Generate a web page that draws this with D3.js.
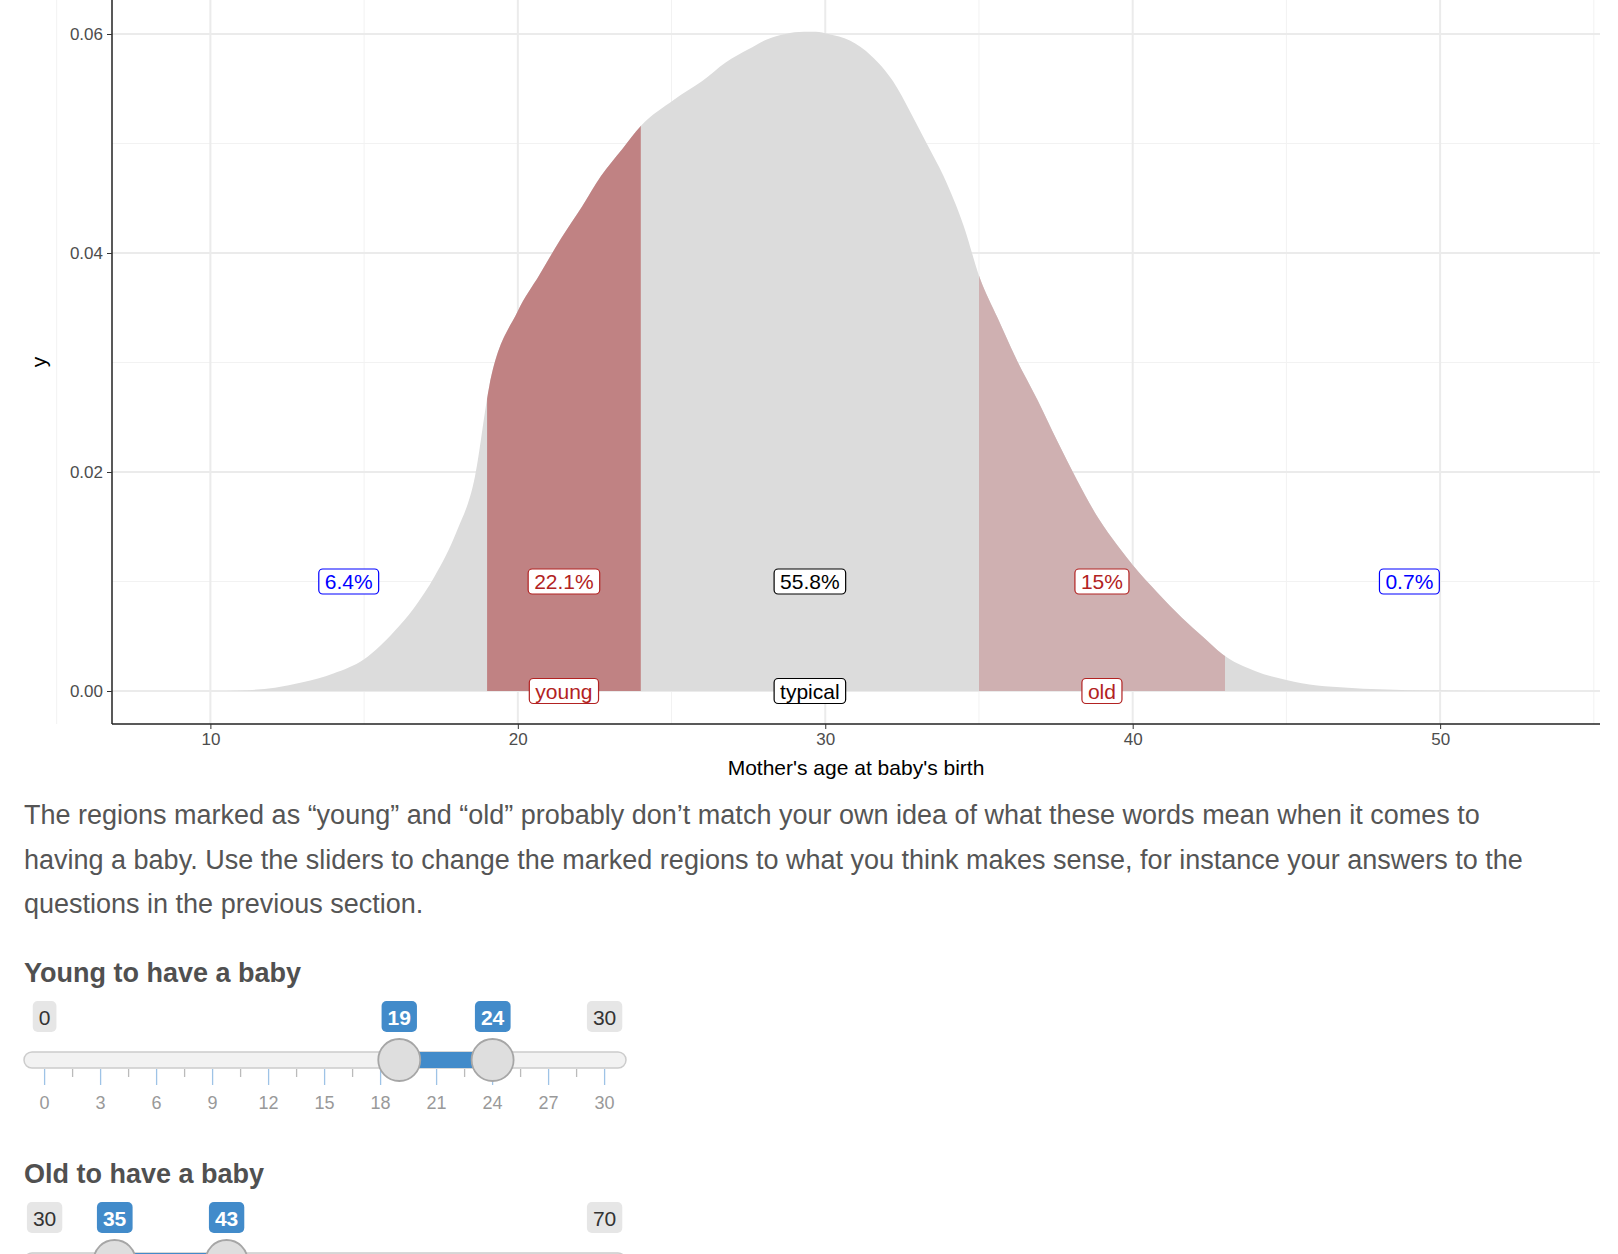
<!DOCTYPE html>
<html><head><meta charset="utf-8">
<script src="https://cdn.jsdelivr.net/npm/d3@7"></script>
<style>body{margin:0;background:#fff}svg{display:block}</style>
</head><body><svg id="c" width="1618" height="1254"></svg>
<script>
const densAge=[8.9,10,11,12.1,13,14,15,16,16.6,17.3,18,18.6,19.07,20,20.7,21.4,22.1,22.7,23.4,24,25.08,26,26.76,27.5,28.1,28.7,29.3,29.7,30.1,30.8,31.5,32.2,32.8,33.3,33.85,34.5,35.03,35.6,36.2,36.9,37.55,38.2,38.9,39.5,40,40.8,41.6,42.3,42.9,44,45,46,47,48,49,50.4,53.1];
const densY=[0,0,0.00005,0.0003,0.0008,0.0016,0.0029,0.0055,0.0075,0.0105,0.0145,0.0195,0.0278,0.0347,0.038,0.0413,0.0443,0.047,0.0495,0.0516,0.054,0.0557,0.0574,0.0586,0.0595,0.0600,0.0602,0.0602,0.0600,0.0594,0.0580,0.0557,0.0527,0.0500,0.0470,0.0425,0.0377,0.0341,0.0304,0.0266,0.0228,0.0192,0.0157,0.0133,0.0115,0.009,0.0067,0.0049,0.0034,0.0018,0.001,0.0005,0.0003,0.00015,0.00006,0.00002,0];
const regions=[{name:"young",from:19,to:24,color:"#c08283"},{name:"old",from:35,to:43,color:"#cfb0b1"}];
const pctLabels=["6.4%","22.1%","55.8%","15%","0.7%"];
const pctX=[14.5,21.5,29.5,39,49];
const pctColors=["#0000ff","#b22222","#000000","#b22222","#0000ff"];
const nameLabels=["young","typical","old"];
const nameX=[21.5,29.5,39];
const nameColors=["#b22222","#000000","#b22222"];
const xTicks=[10,20,30,40,50];
const yTicks=[0,0.02,0.04,0.06];
const paragraph=["The regions marked as \u201cyoung\u201d and \u201cold\u201d probably don\u2019t match your own idea of what these words mean when it comes to","having a baby. Use the sliders to change the marked regions to what you think makes sense, for instance your answers to the","questions in the previous section."];
const sliders=[{title:"Young to have a baby",min:0,max:30,lo:19,hi:24,ticks:[0,3,6,9,12,15,18,21,24,27,30]},{title:"Old to have a baby",min:30,max:70,lo:35,hi:43,ticks:[]}];

const svg=d3.select("#c");
const F="'Liberation Sans',Arial,sans-serif";
const L=112,R=1600,T=0,B=724;
const x=d3.scaleLinear().domain([6.8,55.2]).range([L,R]);
const y=d3.scaleLinear().domain([0,0.06]).range([691,34]);
const g=svg.append("g");
// grid
[5,15,25,35,45,55].forEach(v=>g.append("line").attr("x1",x(v)).attr("x2",x(v)).attr("y1",T).attr("y2",B).attr("stroke","#f2f2f2").attr("stroke-width",1));
[0.01,0.03,0.05].forEach(v=>g.append("line").attr("x1",L).attr("x2",R).attr("y1",y(v)).attr("y2",y(v)).attr("stroke","#f2f2f2").attr("stroke-width",1));
xTicks.forEach(v=>g.append("line").attr("x1",x(v)).attr("x2",x(v)).attr("y1",T).attr("y2",B).attr("stroke","#ebebeb").attr("stroke-width",2));
yTicks.forEach(v=>g.append("line").attr("x1",L).attr("x2",R).attr("y1",y(v)).attr("y2",y(v)).attr("stroke","#ebebeb").attr("stroke-width",2));
const pts=densAge.map((a,i)=>[a,densY[i]]);
const area=d3.area().x(d=>x(d[0])).y0(y(0)).y1(d=>y(d[1])).curve(d3.curveMonotoneX);
g.append("path").attr("d",area(pts)).attr("fill","#dcdcdc");
const interp=a=>{for(let i=1;i<densAge.length;i++){if(a<=densAge[i]){const t=(a-densAge[i-1])/(densAge[i]-densAge[i-1]);return densY[i-1]+t*(densY[i]-densY[i-1]);}}return 0;};
const clip=svg.append("defs");
regions.forEach((r,i)=>{
  clip.append("clipPath").attr("id","cp"+i).append("rect").attr("x",x(r.from)).attr("y",0).attr("width",x(r.to)-x(r.from)).attr("height",B);
  g.append("path").attr("d",area(pts)).attr("fill",r.color).attr("clip-path","url(#cp"+i+")");
});
// labels
function label(txt,xv,yv,col){
  const t=g.append("text").attr("x",x(xv)).attr("y",y(yv)).attr("text-anchor","middle").attr("dominant-baseline","central").attr("font-family",F).attr("font-size",21).attr("fill",col).text(txt);
  const bb=t.node().getBBox();
  g.insert("rect","text:last-child").attr("x",bb.x-6).attr("y",bb.y-1).attr("width",bb.width+12).attr("height",bb.height+2).attr("rx",4).attr("fill","#fff").attr("stroke",col).attr("stroke-width",1.2);
  t.raise();
}
pctLabels.forEach((p,i)=>label(p,pctX[i],0.01,pctColors[i]));
nameLabels.forEach((p,i)=>label(p,nameX[i],0,nameColors[i]));
// axes
const xa=g.append("g").attr("transform",`translate(0,${B})`).call(d3.axisBottom(x).tickValues(xTicks).tickSize(5).tickPadding(4));
const ya=g.append("g").attr("transform",`translate(${L},0)`).call(d3.axisLeft(y).tickValues(yTicks).tickFormat(d3.format(".2f")).tickSize(5).tickPadding(4));
[xa,ya].forEach(a=>{a.select(".domain").attr("stroke","#222").attr("stroke-width",1.5);a.selectAll(".tick line").attr("stroke","#333");a.selectAll("text").attr("font-family",F).attr("font-size",17).attr("fill","#4d4d4d");});
ya.select(".domain").attr("d",`M0,${T}V${B}`);
xa.select(".domain").attr("d",`M${L},0H${R}`);
g.append("text").attr("x",(L+R)/2).attr("y",775).attr("text-anchor","middle").attr("font-family",F).attr("font-size",21).attr("fill","#000").text("Mother's age at baby's birth");
g.append("text").attr("transform","translate(46,362) rotate(-90)").attr("text-anchor","middle").attr("font-family",F).attr("font-size",21).attr("fill","#000").text("y");
// paragraph
paragraph.forEach((l,i)=>svg.append("text").attr("x",24).attr("y",824+i*44.5).attr("font-family",F).attr("font-size",27).attr("fill","#555").text(l));
// sliders
sliders.forEach((s,k)=>{
  const oy=k*201;
  const sx=d3.scaleLinear().domain([s.min,s.max]).range([44.6,604.6]);
  const sg=svg.append("g").attr("transform",`translate(0,${oy})`);
  sg.append("text").attr("x",24).attr("y",982).attr("font-family",F).attr("font-weight","bold").attr("font-size",27).attr("fill","#505050").text(s.title);
  const badge=(v,blue)=>{
    const t=sg.append("text").attr("x",sx(v)).attr("y",1017).attr("text-anchor","middle").attr("dominant-baseline","central").attr("font-family",F).attr("font-size",21).attr("font-weight",blue?"bold":"normal").attr("fill",blue?"#fff":"#333").text(v);
    const bb=t.node().getBBox();
    sg.insert("rect","text:last-child").attr("x",bb.x-6).attr("y",1001).attr("width",bb.width+12).attr("height",31).attr("rx",5).attr("fill",blue?"#428bca":"#e6e6e6");
    t.raise();
  };
  badge(s.min,false);badge(s.max,false);badge(s.lo,true);badge(s.hi,true);
  sg.append("rect").attr("x",24).attr("y",1052).attr("width",602).attr("height",16).attr("rx",8).attr("fill","#f2f2f2").attr("stroke","#ccc").attr("stroke-width",1.5);
  sg.append("rect").attr("x",sx(s.lo)).attr("y",1052).attr("width",sx(s.hi)-sx(s.lo)).attr("height",16).attr("fill","#428bca");
  if(s.ticks.length){
    d3.range(s.min,s.max+0.01,1.5).forEach(v=>{const major=s.ticks.includes(v);sg.append("line").attr("x1",sx(v)).attr("x2",sx(v)).attr("y1",1069).attr("y2",major?1085:1077).attr("stroke",major?"#9ec3e6":"#bbb").attr("stroke-width",1.3);});
    s.ticks.forEach(v=>sg.append("text").attr("x",sx(v)).attr("y",1109).attr("text-anchor","middle").attr("font-family",F).attr("font-size",18).attr("fill","#999").text(v));
  }
  [s.lo,s.hi].forEach(v=>sg.append("circle").attr("cx",sx(v)).attr("cy",1060).attr("r",21).attr("fill","#dedede").attr("stroke","#a6a6a6").attr("stroke-width",1.8));
});
</script></body></html>
